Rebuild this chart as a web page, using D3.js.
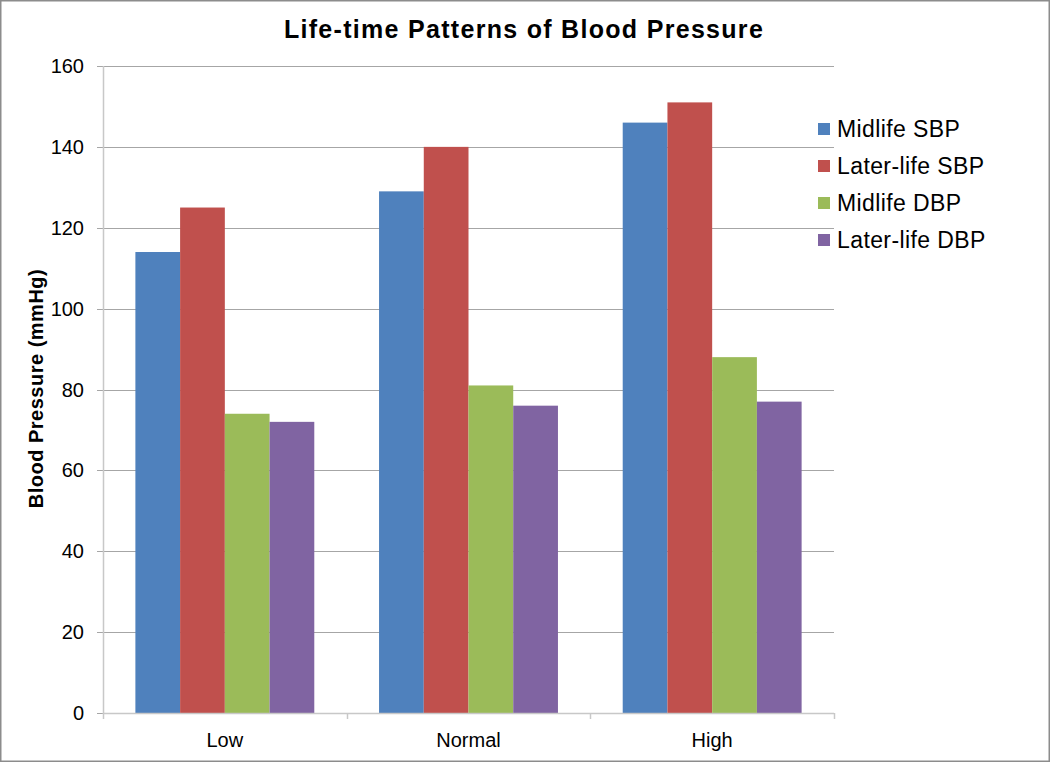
<!DOCTYPE html>
<html>
<head>
<meta charset="utf-8">
<script src="https://cdn.jsdelivr.net/npm/d3@7"></script>
<style>
body { margin:0; background:#fff; }
text { font-family: Arial, "Liberation Sans", sans-serif; }
</style>
</head>
<body>
<svg id="chart"></svg>
<script>
var categories = ["Low","Normal","High"]
var seriesNames = ["Midlife SBP","Later-life SBP","Midlife DBP","Later-life DBP"]
var midlifeSBP = [114,129,146]
var laterlifeSBP = [125,140,151]
var midlifeDBP = [74,81,88]
var laterlifeDBP = [72,76,77]
var yTicks = [0,20,40,60,80,100,120,140,160]
var colors = ["#4F81BD","#C0504D","#9BBB59","#8064A2"]

var seriesValues = [midlifeSBP,laterlifeSBP,midlifeDBP,laterlifeDBP]

var screen = {width:1050, height:762}
var margins = {top:66, bottom:49, left:103, right:216}
var graph = {
    width:screen.width-margins.left-margins.right,
    height:screen.height-margins.top-margins.bottom
}

var svg = d3.select("#chart")
    .attr("width",screen.width)
    .attr("height",screen.height)

//outer frame
svg.append("rect")
    .attr("x",0.75).attr("y",0.75)
    .attr("width",screen.width-1.5).attr("height",screen.height-1.5)
    .attr("fill","#fff")
    .attr("stroke","#8c8c8c")
    .attr("stroke-width",1.5)

var g = svg.append("g")
    .attr("transform","translate("+margins.left+","+margins.top+")")

var xScale = d3.scaleBand()
    .domain(categories)
    .range([0,graph.width])

var xInner = d3.scaleBand()
    .domain(seriesNames)
    .range([0,xScale.bandwidth()])
    .paddingInner(0)
    .paddingOuter(0.724)

var yScale = d3.scaleLinear()
    .domain([0,160])
    .range([graph.height,0])

//gridlines
g.selectAll(".grid")
    .data(yTicks)
    .enter()
    .append("line")
    .attr("x1",-6)
    .attr("x2",graph.width)
    .attr("y1",function(d){return Math.round(yScale(d))+0.5})
    .attr("y2",function(d){return Math.round(yScale(d))+0.5})
    .attr("stroke","#a6a6a6")
    .attr("stroke-width",1)

//y labels
g.selectAll(".ylab")
    .data(yTicks)
    .enter()
    .append("text")
    .attr("x",-19)
    .attr("y",function(d){return yScale(d)})
    .attr("dy","0.35em")
    .attr("text-anchor","end")
    .attr("font-size",20)
    .attr("fill","#000")
    .text(function(d){return d})

//bars
var groups = g.selectAll(".cat")
    .data(categories)
    .enter()
    .append("g")
    .attr("transform",function(d){return "translate("+xScale(d)+",0)"})

groups.selectAll("rect")
    .data(function(d,i){
        return seriesNames.map(function(s,j){
            return {series:s, value:seriesValues[j][i], color:colors[j]}
        })
    })
    .enter()
    .append("rect")
    .attr("x",function(d){return xInner(d.series)})
    .attr("width",xInner.bandwidth())
    .attr("y",function(d){return yScale(d.value)})
    .attr("height",function(d){return graph.height-yScale(d.value)})
    .attr("fill",function(d){return d.color})

//axes lines
g.append("line")
    .attr("x1",0.5).attr("x2",0.5)
    .attr("y1",0).attr("y2",graph.height+1)
    .attr("stroke","#c8c8c8")
    .attr("stroke-width",1.5)

g.append("line")
    .attr("x1",0).attr("x2",graph.width)
    .attr("y1",graph.height+0.5).attr("y2",graph.height+0.5)
    .attr("stroke","#c8c8c8")
    .attr("stroke-width",1.5)

var xTickPos = categories.map(function(c){return xScale(c)}).concat([graph.width])
g.selectAll(".xtick")
    .data(xTickPos)
    .enter()
    .append("line")
    .attr("x1",function(d){return Math.round(d)+0.5})
    .attr("x2",function(d){return Math.round(d)+0.5})
    .attr("y1",graph.height)
    .attr("y2",graph.height+6)
    .attr("stroke","#c8c8c8")
    .attr("stroke-width",1.5)

//x labels
g.selectAll(".xlab")
    .data(categories)
    .enter()
    .append("text")
    .attr("x",function(d){return xScale(d)+xScale.bandwidth()/2})
    .attr("y",graph.height+34)
    .attr("text-anchor","middle")
    .attr("font-size",20)
    .attr("fill","#000")
    .text(function(d){return d})

//y title
svg.append("text")
    .attr("transform","translate(43,"+(margins.top+graph.height/2 - 1)+") rotate(-90)")
    .attr("text-anchor","middle")
    .attr("font-size",20)
    .attr("font-weight","bold")
    .attr("letter-spacing",0.5)
    .text("Blood Pressure (mmHg)")

//title
svg.append("text")
    .attr("x",524)
    .attr("y",38)
    .attr("text-anchor","middle")
    .attr("font-size",25)
    .attr("font-weight","bold")
    .attr("letter-spacing",1.3)
    .text("Life-time Patterns of Blood Pressure")

//legend
var legend = svg.selectAll(".legend")
    .data(seriesNames)
    .enter()
    .append("g")
    .attr("transform",function(d,i){return "translate(818,"+(129+i*37)+")"})

legend.append("rect")
    .attr("x",0).attr("y",-6)
    .attr("width",12).attr("height",12)
    .attr("fill",function(d,i){return colors[i]})

legend.append("text")
    .attr("x",19)
    .attr("y",0)
    .attr("dy","0.35em")
    .attr("font-size",23)
    .attr("letter-spacing",0.4)
    .attr("fill","#000")
    .text(function(d){return d})
</script>
</body>
</html>
